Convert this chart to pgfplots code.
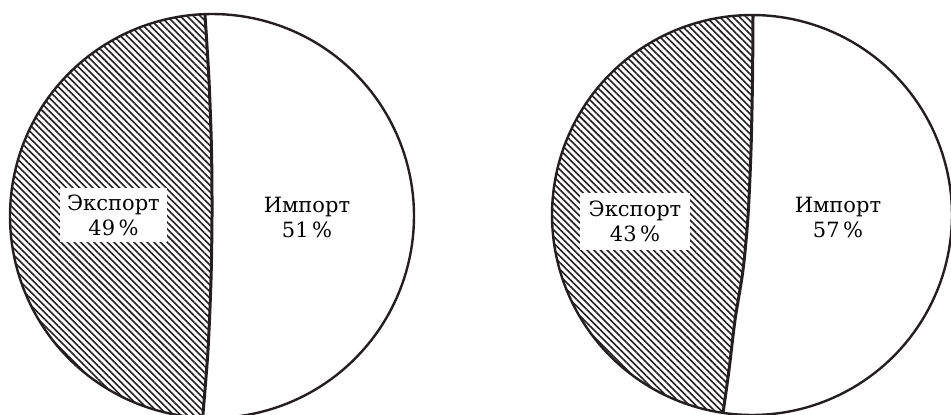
\documentclass[border=0pt]{standalone}
\usepackage{pgfplots}
\pgfplotsset{compat=1.18}
\usetikzlibrary{patterns.meta}
\usepackage{fontspec}
\setmainfont{DejaVu Serif}
\definecolor{ink}{HTML}{231F20}
\begin{document}
\begin{tikzpicture}
\begin{axis}[scale only axis, width=475.5pt, height=207pt,
  xmin=0, xmax=951, ymin=0, ymax=414,
  axis line style={draw=none}, ticks=none, clip=true]
% ---- left pie: Export 49 %, Import 51 %
\addplot[draw=none, pattern={Lines[angle=-45,distance=2.35pt,line width=0.8pt]}, pattern color=ink,
  domain=92:267.3, samples=120, variable=\t]
  ({212+202*cos(t)},{198+202*sin(t)})
  -- (axis cs:203,0) -- (axis cs:208,64) -- (axis cs:211,134) -- (axis cs:212,198)
  -- (axis cs:211.5,264) -- (axis cs:209,334) -- (axis cs:205,399) -- cycle;
\addplot[ink, line width=1.2pt, domain=0:360, samples=181, variable=\t]
  ({212+202*cos(t)},{198+202*sin(t)});
\addplot[ink, line width=1.5pt, smooth] coordinates
  {(205,399) (209,334) (211.5,264) (212,198) (211,134) (208,64) (203,0) (202.6,-4)};
% ---- right pie: Export 43 %, Import 57 %
\addplot[draw=none, pattern={Lines[angle=-45,distance=2.35pt,line width=0.8pt]}, pattern color=ink,
  domain=89.7:261.7, samples=120, variable=\t]
  ({752+200*cos(t)},{199+200*sin(t)})
  -- (axis cs:729,44) -- (axis cs:735,94) -- (axis cs:743,144) -- (axis cs:748,198)
  -- (axis cs:751,264) -- (axis cs:752.5,334) -- (axis cs:753,399) -- cycle;
\addplot[ink, line width=1.2pt, domain=0:360, samples=181, variable=\t]
  ({752+200*cos(t)},{199+200*sin(t)});
\addplot[ink, line width=1.5pt, smooth] coordinates
  {(753,399) (752.5,334) (751,264) (748,198) (743,144) (735,94) (729,44) (723,1)};
% ---- labels
\node[fill=white, inner sep=0pt, minimum width=53.5pt, minimum height=27pt, align=center,
  font=\fontsize{10.5}{12.5}\selectfont] at (axis cs:113.5,199) {Экспорт\\49\,\%};
\node[align=center, font=\fontsize{10.5}{12.5}\selectfont] at (axis cs:307,197) {Импорт\\51\,\%};
\node[fill=white, inner sep=0pt, minimum width=55pt, minimum height=28.5pt, align=center,
  font=\fontsize{10.5}{12.5}\selectfont] at (axis cs:635,192.5) {Экспорт\\43\,\%};
\node[align=center, font=\fontsize{10.5}{12.5}\selectfont] at (axis cs:838,197) {Импорт\\57\,\%};
\end{axis}
\end{tikzpicture}
\end{document}
